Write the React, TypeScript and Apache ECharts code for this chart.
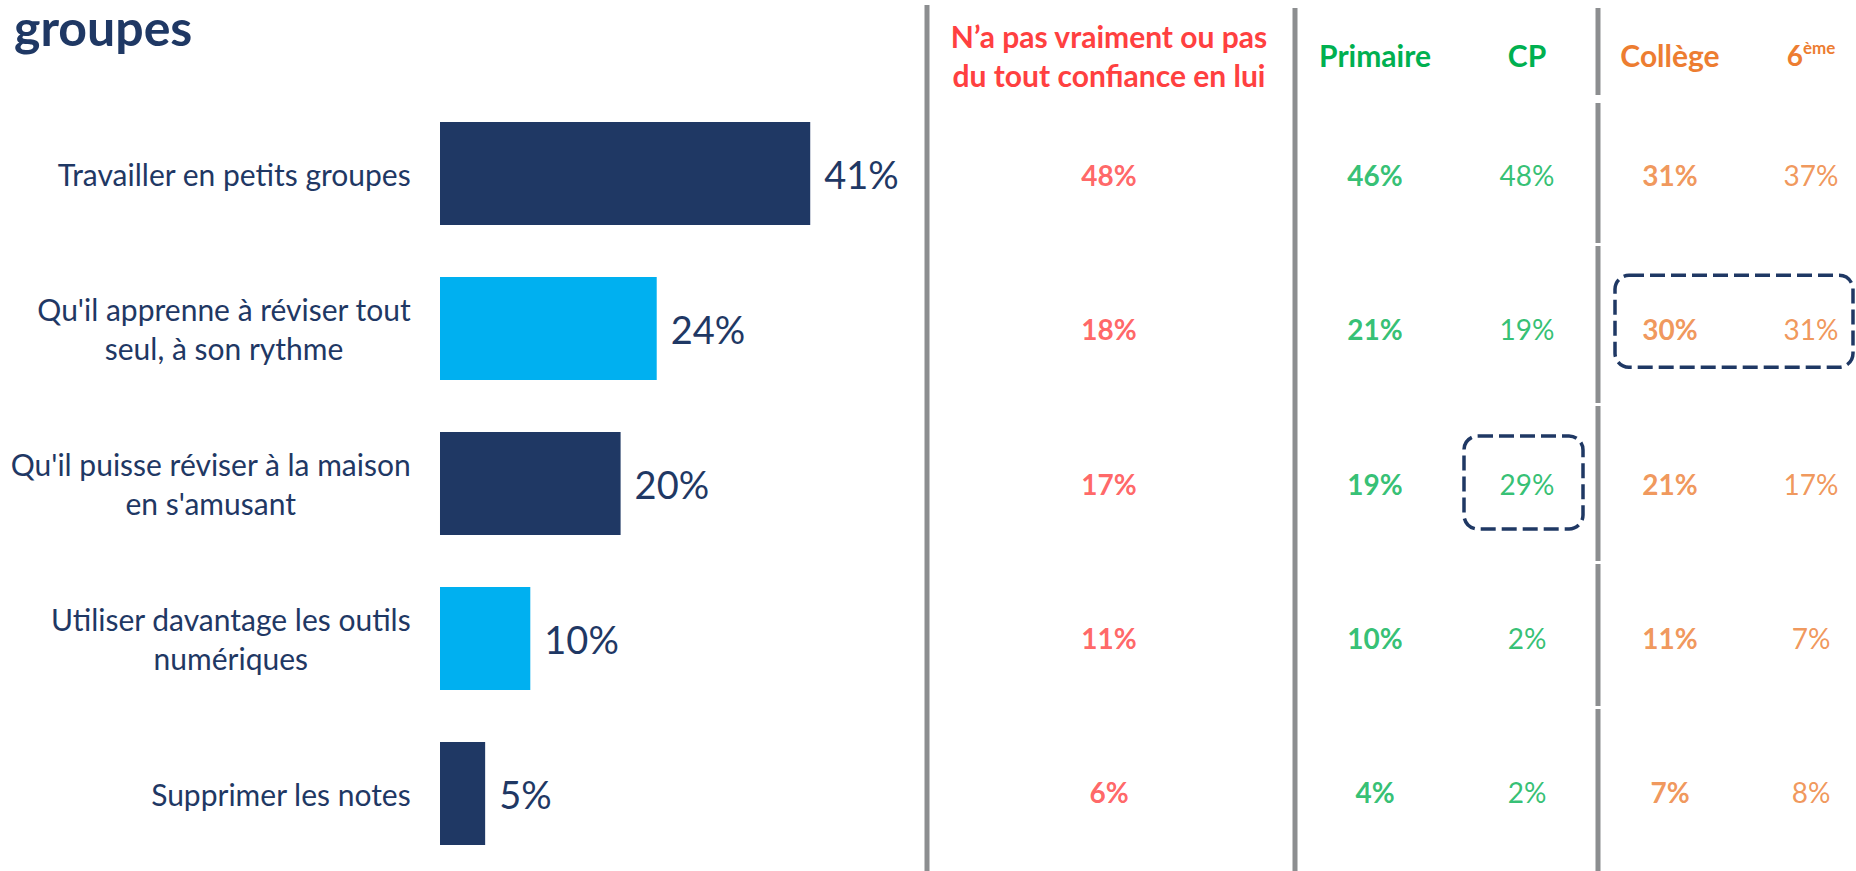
import React, { useEffect, useRef } from "react";
import * as echarts from "echarts";

// ---------- data ----------
const titleText = "groupes";
const categories = [
  "Travailler en petits groupes",
  "Qu'il apprenne à réviser tout\nseul, à son rythme",
  "Qu'il puisse réviser à la maison\nen s'amusant",
  "Utiliser davantage les outils\nnumériques",
  "Supprimer les notes",
];
const totalValues = [41, 24, 20, 10, 5];
const columnHeaders = [
  "N’a pas vraiment ou pas\ndu tout confiance en lui",
  "Primaire",
  "CP",
  "Collège",
  "6ème",
];
const pasConfiance = [48, 18, 17, 11, 6];
const primaire = [46, 21, 19, 10, 4];
const cp = [48, 19, 29, 2, 2];
const college = [31, 30, 21, 11, 7];
const sixieme = [37, 31, 17, 7, 8];
const columnValues = [pasConfiance, primaire, cp, college, sixieme];
// highlighted cells: column indexes + row index
const highlights = [
  { cols: [2], row: 2 },
  { cols: [3, 4], row: 1 },
];

// ---------- styles / layout ----------
const FONT = "Lato, 'Noto Sans', sans-serif";
const NAVY = "#1f3864";
const LIGHT = "#00b0f0";
const RED = "#ff4040";
const GREEN = "#00b050";
const ORANGE = "#ed7d31";
const GRAY = "#8c8e90";
const barColors = [NAVY, LIGHT, NAVY, LIGHT, NAVY];
const colCenters = [1109, 1375, 1527, 1670, 1811];
const colColors = [RED, GREEN, GREEN, ORANGE, ORANGE];
const colBold = [true, true, false, true, false];
const GRID_TOP = 96;
const GRID_H = 775;
const TABLE_TOP = 98;
const TABLE_H = 771;
const highlightPads = [
  { l: 63, r: 56, t: 47.5, b: 45.5 },
  { l: 55, r: 42, t: 54, b: 38 },
];

export default function App() {
  const ref = useRef<HTMLDivElement>(null);

  useEffect(() => {
    if (!ref.current) return;
    const chart = echarts.init(ref.current, null, { renderer: "svg" });

    const grids: any[] = [
      { left: 440, top: GRID_TOP, width: 451.5, height: GRID_H },
    ];
    const xAxes: any[] = [
      { gridIndex: 0, type: "value", min: 0, max: 50, show: false },
    ];
    const yAxes: any[] = [
      {
        gridIndex: 0,
        type: "category",
        data: categories,
        inverse: true,
        axisLine: { show: false },
        axisTick: { show: false },
        axisLabel: {
          margin: 29,
          formatter: (v: string) =>
            v
              .split("\n")
              .map((l) => `{c|${l}}`)
              .join("\n"),
          rich: {
            c: {
              align: "center",
              fontSize: 30,
              lineHeight: 39,
              color: NAVY,
              fontFamily: FONT,
            },
          },
        },
      },
    ];
    const series: any[] = [
      {
        type: "bar",
        xAxisIndex: 0,
        yAxisIndex: 0,
        barWidth: 103,
        silent: true,
        data: totalValues.map((v, i) => ({
          value: v,
          itemStyle: { color: barColors[i] },
        })),
        label: {
          show: true,
          position: "right",
          distance: 14,
          formatter: "{c}%",
          fontSize: 38,
          color: NAVY,
          fontFamily: FONT,
        },
      },
    ];

    columnHeaders.forEach((h, i) => {
      const gi = i + 1;
      const color = colColors[i];
      const fw = colBold[i] ? "bold" : "normal";
      grids.push({
        left: colCenters[i] - 40,
        width: 80,
        top: TABLE_TOP,
        height: TABLE_H,
      });
      xAxes.push({
        gridIndex: gi,
        type: "category",
        data: [h],
        position: "top",
        axisLine: { show: false },
        axisTick: { show: false },
        axisLabel: {
          interval: 0,
          margin: 43,
          verticalAlign: "middle",
          color,
          fontWeight: "bold",
          fontSize: 30,
          lineHeight: 39,
          fontFamily: FONT,
          formatter: (v: string) => {
            const m = v.match(/^(\d+)(\D+)$/);
            return m ? `{a|${m[1]}}{s|${m[2]}}` : v;
          },
          rich: {
            a: { color, fontWeight: "bold", fontSize: 28, fontFamily: FONT },
            s: {
              color,
              fontWeight: "bold",
              fontSize: 17,
              fontFamily: FONT,
              padding: [0, 0, 15, 0],
            },
          },
        },
      });
      yAxes.push({
        gridIndex: gi,
        type: "category",
        data: categories,
        inverse: true,
        show: false,
      });
      series.push({
        type: "scatter",
        xAxisIndex: gi,
        yAxisIndex: gi,
        symbolSize: 1,
        silent: true,
        itemStyle: { color: "transparent" },
        data: columnValues[i].map((v, r) => [0, r, v]),
        label: {
          show: true,
          position: "inside",
          formatter: (p: any) => `${p.value[2]}%`,
          color,
          fontWeight: fw,
          fontSize: 28,
          fontFamily: FONT,
        },
      });
    });

    const lineSegs: any[] = [];
    const addLine = (x: number, y1: number, y2: number) =>
      lineSegs.push({
        type: "line",
        shape: { x1: x, y1, x2: x, y2 },
        style: { stroke: GRAY, lineWidth: 5 },
        silent: true,
      });
    addLine(927, 5, 871);
    addLine(1295, 8, 871);
    [
      [8, 95],
      [103, 243],
      [246, 403],
      [406, 561],
      [564, 706],
      [709, 871],
    ].forEach(([a, b]) => addLine(1598, a, b));

    chart.setOption({
      animation: false,
      backgroundColor: "#ffffff",
      grid: grids,
      xAxis: xAxes,
      yAxis: yAxes,
      series,
    });

    const rects = highlights.map((h, k) => {
      const pts = h.cols.map((c) =>
        chart.convertToPixel(
          { xAxisIndex: c + 1, yAxisIndex: c + 1 } as any,
          [0, h.row]
        ) as number[]
      );
      const xs = pts.map((p) => p[0]);
      const y = pts[0][1];
      const pad = highlightPads[k];
      const x0 = Math.min(...xs) - pad.l;
      const x1 = Math.max(...xs) + pad.r;
      return {
        type: "rect",
        shape: {
          x: x0,
          y: y - pad.t,
          width: x1 - x0,
          height: pad.t + pad.b,
          r: 14,
        },
        style: {
          fill: "none",
          stroke: NAVY,
          lineWidth: 3.5,
          lineDash: [15, 6],
        },
        silent: true,
      };
    });

    chart.setOption({
      graphic: [
        ...lineSegs,
        ...rects,
        {
          type: "text",
          x: 14,
          y: 27,
          silent: true,
          style: {
            text: titleText,
            fontSize: 50,
            fontWeight: "bold",
            fontFamily: FONT,
            fill: NAVY,
            verticalAlign: "middle",
            align: "left",
          },
        },
      ],
    });

    return () => chart.dispose();
  }, []);

  return (
    <div
      ref={ref}
      style={{
        position: "fixed",
        left: 0,
        top: 0,
        width: "1856px",
        height: "871px",
        background: "#fff",
      }}
    />
  );
}
